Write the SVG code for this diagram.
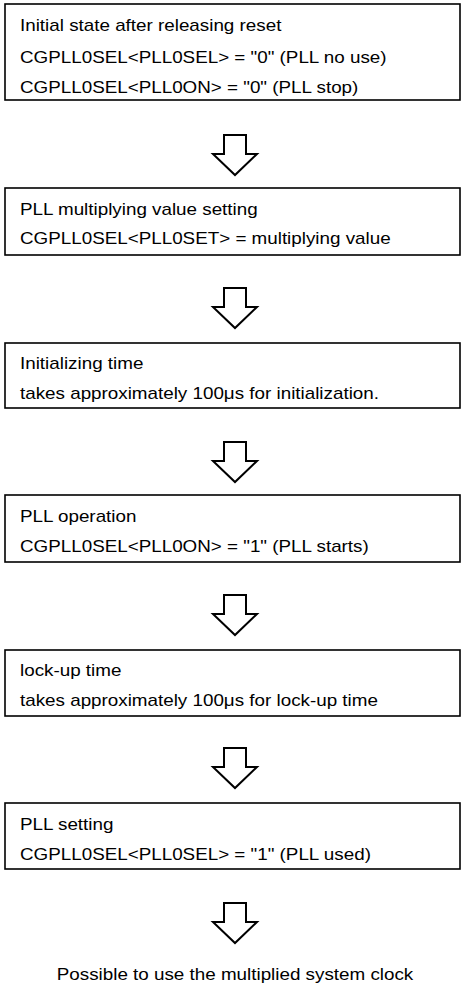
<svg xmlns="http://www.w3.org/2000/svg" width="462" height="988" viewBox="0 0 462 988">
<style>
.box{fill:#fff;stroke:#000;stroke-width:1.6}
.t{font-family:"Liberation Sans",Arial,sans-serif;font-size:17px;fill:#000}
.arr{fill:#fff;stroke:#000;stroke-width:2;stroke-linejoin:miter}
</style>
<defs>
<path id="arrow" class="arr" d="M224,0 H246 V19 H257 L235,40 L213,19 H224 Z"/>
</defs>
<rect width="462" height="988" fill="#fff"/>
<g id="n1"><rect class="box" x="5" y="4" width="455" height="96"/>
<g transform="translate(20,0) scale(1.107,1)">
<text class="t" x="0" y="31">Initial state after releasing reset</text>
<text class="t" x="0" y="63">CGPLL0SEL&lt;PLL0SEL&gt; = "0" (PLL no use)</text>
<text class="t" x="0" y="93">CGPLL0SEL&lt;PLL0ON&gt; = "0" (PLL stop)</text></g></g>
<g id="n2"><rect class="box" x="5" y="188" width="455" height="67"/>
<g transform="translate(20,0) scale(1.107,1)">
<text class="t" x="0" y="215">PLL multiplying value setting</text>
<text class="t" x="0" y="244">CGPLL0SEL&lt;PLL0SET&gt; = multiplying value</text></g></g>
<g id="n3"><rect class="box" x="5" y="343" width="455" height="65"/>
<g transform="translate(20,0) scale(1.107,1)">
<text class="t" x="0" y="369">Initializing time</text>
<text class="t" x="0" y="399">takes approximately 100μs for initialization.</text></g></g>
<g id="n4"><rect class="box" x="5" y="495" width="455" height="67"/>
<g transform="translate(20,0) scale(1.107,1)">
<text class="t" x="0" y="522">PLL operation</text>
<text class="t" x="0" y="552">CGPLL0SEL&lt;PLL0ON&gt; = "1" (PLL starts)</text></g></g>
<g id="n5"><rect class="box" x="5" y="650" width="455" height="66"/>
<g transform="translate(20,0) scale(1.107,1)">
<text class="t" x="0" y="676">lock-up time</text>
<text class="t" x="0" y="706">takes approximately 100μs for lock-up time</text></g></g>
<g id="n6"><rect class="box" x="5" y="803" width="455" height="66"/>
<g transform="translate(20,0) scale(1.107,1)">
<text class="t" x="0" y="830">PLL setting</text>
<text class="t" x="0" y="860">CGPLL0SEL&lt;PLL0SEL&gt; = "1" (PLL used)</text></g></g>
<g id="n7"><g transform="translate(235,0) scale(1.107,1)">
<text class="t" x="0" y="980" text-anchor="middle">Possible to use the multiplied system clock</text></g></g>
<g id="connectors">
<use href="#arrow" y="135"/>
<use href="#arrow" y="288"/>
<use href="#arrow" y="442"/>
<use href="#arrow" y="595"/>
<use href="#arrow" y="748"/>
<use href="#arrow" y="903"/>
</g>
</svg>
